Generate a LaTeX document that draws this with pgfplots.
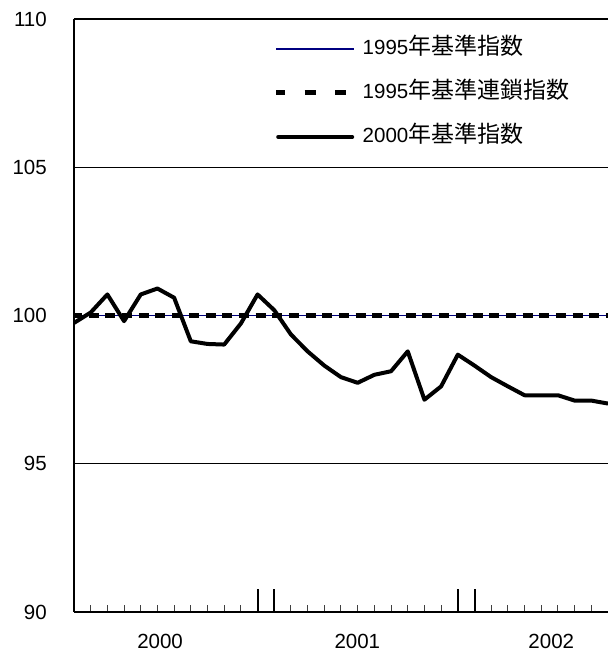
\documentclass[border=0pt]{standalone}
\usepackage{fontspec}
\setmainfont{Liberation Sans}
\newfontfamily\cjk{Noto Sans CJK JP}
\usepackage{pgfplots}
\usepackage{pgfplotstable}
\pgfplotsset{compat=1.18}
\definecolor{navyline}{RGB}{0,0,128}

% Monthly index values, month 0 = January 2000
\pgfplotstableread{
m  idx95 chain95 idx00
0  100   100     99.75
1  100   100     100.10
2  100   100     100.71
3  100   100     99.81
4  100   100     100.71
5  100   100     100.91
6  100   100     100.60
7  100   100     99.13
8  100   100     99.04
9  100   100     99.02
10 100   100     99.73
11 100   100     100.71
12 100   100     100.18
13 100   100     99.36
14 100   100     98.79
15 100   100     98.31
16 100   100     97.92
17 100   100     97.73
18 100   100     98.00
19 100   100     98.12
20 100   100     98.79
21 100   100     97.16
22 100   100     97.61
23 100   100     98.68
24 100   100     98.31
25 100   100     97.92
26 100   100     97.61
27 100   100     97.31
28 100   100     97.31
29 100   100     97.31
30 100   100     97.13
31 100   100     97.13
32 100   100     97.03
}\cpidata

\newcommand{\ja}[1]{{\fontsize{23}{23}\selectfont\cjk #1}}
\newcommand{\lblfont}{\fontsize{20.5}{22}\selectfont}

\begin{document}
\begin{tikzpicture}
\useasboundingbox (-74pt,-42pt) rectangle (534pt,612pt);
\begin{axis}[
  at={(0pt,0pt)}, anchor=south west,
  scale only axis, width=534pt, height=593pt,
  xmin=0, xmax=32, ymin=90, ymax=110,
  clip mode=individual,
  axis x line=bottom, axis y line=left,
  axis line style={-, black},
  x axis line style={line width=2.6pt},
  y axis line style={line width=2pt},
  ytick={90,95,100,105,110},
  ymajorgrids, grid style={black, line width=1.2pt},
  ytick style={draw=none},
  tick align=inside,
  xtick={11,12,23,24}, xticklabels={},
  minor xtick={1,2,3,4,5,6,7,8,9,10,13,14,15,16,17,18,19,20,21,22,25,26,27,28,29,30,31},
  major tick length=23pt, minor tick length=7pt,
  xtick style={black, line width=2pt},
  minor x tick style={black!75, line width=1pt},
  /pgf/number format/assume math mode=true,
  yticklabel style={font=\lblfont, anchor=east, inner sep=0pt, xshift=-27pt},
  legend cell align=left,
  legend style={draw=none, fill=none, at={(axis description cs:0.374,0.968)},
    anchor=north west, inner sep=0pt, outer sep=0pt, row sep=22pt,
    column sep=6pt, font=\lblfont,
    nodes={inner sep=0pt, text height=17pt, text depth=5pt}},
]
\addplot[navyline, line width=1.6pt,
  legend image code/.code={\draw[navyline, line width=1.6pt] (0pt,0pt) -- (78pt,0pt);}]
  table[x=m, y=idx95]{\cpidata};
\addlegendentry{1995\ja{年基準指数}}
\addplot[black, line width=5pt, dash pattern=on 10pt off 6.69pt, dash phase=2pt,
  legend image code/.code={\draw[black, line width=5pt, dash pattern=on 11pt off 19.5pt] (0pt,0pt) -- (78pt,0pt);}]
  table[x=m, y=chain95]{\cpidata};
\addlegendentry{1995\ja{年基準連鎖指数}}
\addplot[black, line width=4pt, line join=round,
  legend image code/.code={\draw[black, line width=4pt, line cap=round] (2pt,0pt) -- (76pt,0pt);}]
  table[x=m, y=idx00]{\cpidata};
\addlegendentry{2000\ja{年基準指数}}

\node[font=\lblfont] at (axis cs:5.16,90) [yshift=-29pt] {2000};
\node[font=\lblfont] at (axis cs:16.98,90) [yshift=-29pt] {2001};
\node[font=\lblfont] at (axis cs:28.6,90) [yshift=-29pt] {2002};
\end{axis}
\end{tikzpicture}
\end{document}
